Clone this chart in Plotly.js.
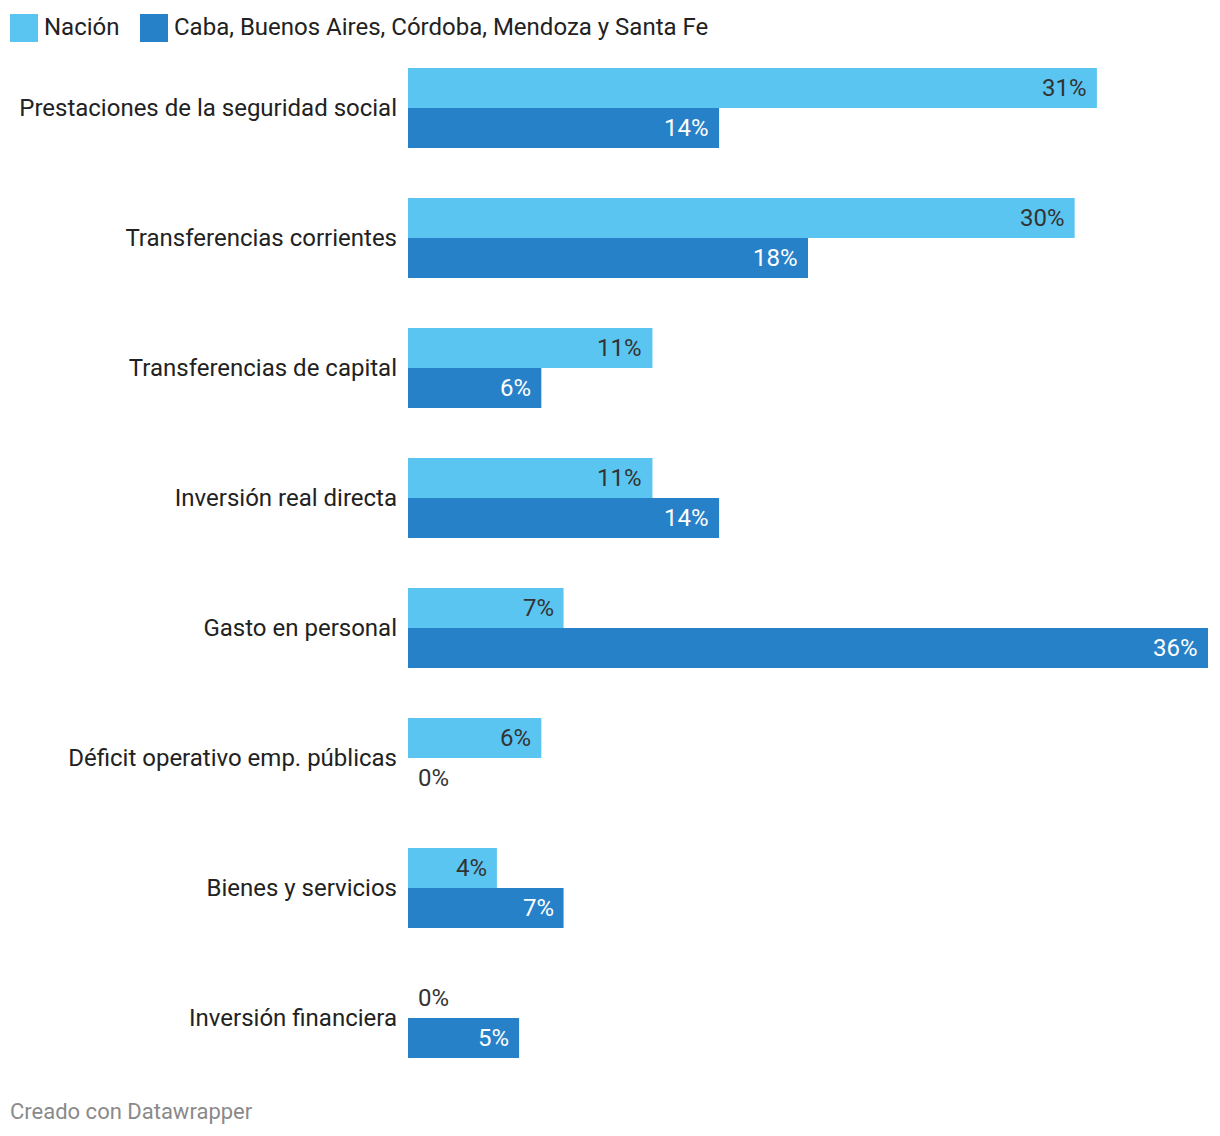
<!DOCTYPE html>
<html>
<head>
<meta charset="utf-8">
<script src="https://cdn.plot.ly/plotly-3.0.1.min.js"></script>
<style>html,body{margin:0;padding:0;background:#fff;}#chart{width:1220px;height:1136px;}</style>
</head>
<body>
<div id="chart"></div>
<script>
const categories = [
  "Prestaciones de la seguridad social",
  "Transferencias corrientes",
  "Transferencias de capital",
  "Inversión real directa",
  "Gasto en personal",
  "Déficit operativo emp. públicas",
  "Bienes y servicios",
  "Inversión financiera"
];
const seriesNames = ["Nación", "Caba, Buenos Aires, Córdoba, Mendoza y Santa Fe"];
const nacion = [31, 30, 11, 11, 7, 6, 4, 0];
const provincias = [14, 18, 6, 14, 36, 0, 7, 5];
const colors = ["#5bc5f2", "#2681c8"];
const labelColors = ["#333333", "#ffffff"];

const FONT = "Roboto, 'Noto Sans', sans-serif";
const series = [nacion, provincias];

const traces = series.map((vals, i) => ({
  type: "bar",
  orientation: "h",
  name: seriesNames[i],
  y: categories,
  x: vals,
  marker: {color: colors[i], line: {width: 0}},
  showlegend: false,
  hoverinfo: "x+y"
}));

const annotations = [];
series.forEach((vals, i) => {
  vals.forEach((v, j) => {
    const inside = v > 0;
    annotations.push({
      x: v, y: categories[j], xref: "x", yref: "y",
      text: v + "%",
      showarrow: false,
      xanchor: inside ? "right" : "left",
      xshift: inside ? -8 : 8,
      yshift: i === 0 ? 20 : -20,
      font: {family: FONT, size: 24, color: inside ? labelColors[i] : "#333333"}
    });
  });
});

// legend
const shapes = [];
const legendX = [10, 140];
seriesNames.forEach((n, i) => {
  shapes.push({type: "rect", xref: "paper", yref: "paper",
    x0: (legendX[i] - 408) / 800, x1: (legendX[i] + 28 - 408) / 800,
    y0: (1083 - 14) / 1040, y1: (1083 - 42) / 1040,
    fillcolor: colors[i], line: {width: 0}});
  annotations.push({xref: "paper", yref: "paper",
    x: (legendX[i] + 32 - 408) / 800, y: (1083 - 27) / 1040,
    xanchor: "left", yanchor: "middle", showarrow: false, text: n,
    font: {family: FONT, size: 24, color: "#222222"}});
});
annotations.push({xref: "paper", yref: "paper",
  x: (8 - 408) / 800, y: (1083 - 1111) / 1040,
  xanchor: "left", yanchor: "middle", showarrow: false,
  text: "Creado con Datawrapper",
  font: {family: FONT, size: 22, color: "#8a8a8a"}});

const layout = {
  width: 1220, height: 1136,
  margin: {l: 408, r: 12, t: 43, b: 53, pad: 0},
  paper_bgcolor: "#ffffff", plot_bgcolor: "#ffffff",
  barmode: "group",
  bargap: 50 / 130,
  bargroupgap: 0,
  font: {family: FONT, size: 24, color: "#222222"},
  xaxis: {range: [0, 36], visible: false, fixedrange: true},
  yaxis: {autorange: "reversed", showgrid: false, zeroline: false, showline: false,
    ticks: "", ticklabelstandoff: 10, tickfont: {family: FONT, size: 24, color: "#222222"}},
  shapes: shapes,
  annotations: annotations
};

Plotly.newPlot("chart", traces, layout, {displayModeBar: false, staticPlot: true});
</script>
</body>
</html>
